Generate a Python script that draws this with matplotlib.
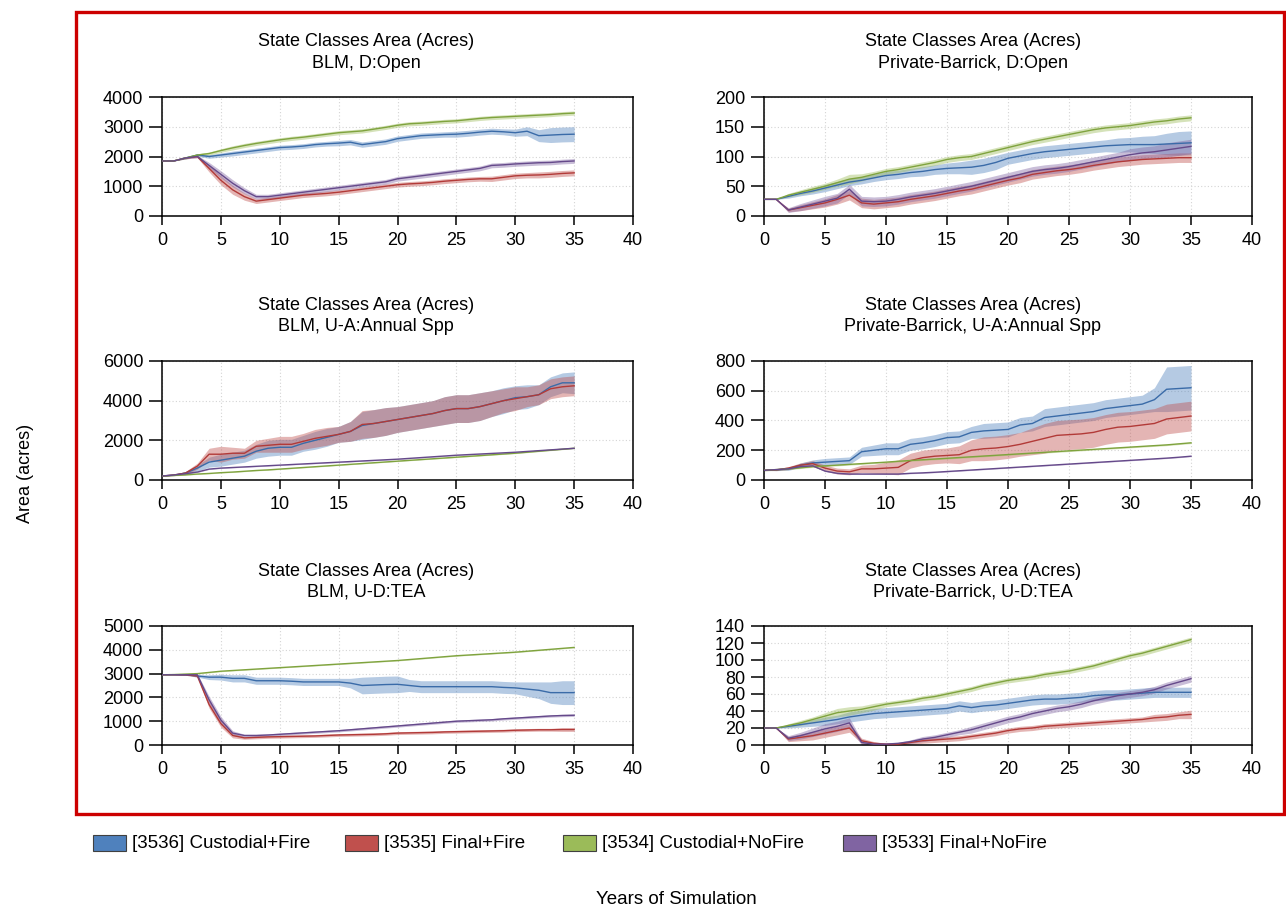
import matplotlib
matplotlib.use("Agg")
import matplotlib.pyplot as plt
from matplotlib.patches import Rectangle
import numpy as np

plt.rcParams['font.family'] = ['Liberation Sans', 'DejaVu Sans']

YEARS = list(range(36))

SCENARIOS = ["[3536] Custodial+Fire", "[3535] Final+Fire",
             "[3534] Custodial+NoFire", "[3533] Final+NoFire"]

# ---- BLM, D:Open ----
BLM_OPEN_CF = [1850, 1850, 1950, 2050, 2000, 2050, 2100, 2150, 2200, 2250,
               2300, 2320, 2350, 2400, 2430, 2450, 2480, 2400, 2450, 2500,
               2600, 2650, 2700, 2720, 2740, 2750, 2780, 2820, 2850, 2830,
               2800, 2850, 2700, 2720, 2740, 2750]
BLM_OPEN_CF_BAND = [0, 0, 30, 40, 60, 70, 80, 80, 80, 80,
                    80, 80, 80, 80, 80, 90, 90, 90, 90, 90,
                    90, 90, 90, 90, 90, 100, 100, 100, 100, 100,
                    120, 150, 200, 250, 250, 250]
BLM_OPEN_FF = [1850, 1850, 1950, 2000, 1600, 1200, 880, 650, 500, 550,
               600, 650, 700, 730, 760, 800, 850, 900, 950, 1000,
               1050, 1080, 1100, 1130, 1170, 1200, 1230, 1250, 1250, 1300,
               1350, 1370, 1380, 1400, 1430, 1450]
BLM_OPEN_FF_BAND = [0, 0, 30, 40, 120, 150, 150, 120, 80, 80,
                    80, 80, 80, 80, 80, 80, 80, 80, 80, 80,
                    80, 80, 80, 80, 80, 80, 80, 80, 90, 90,
                    90, 90, 100, 100, 100, 100]
BLM_OPEN_CN = [1850, 1850, 1950, 2050, 2100, 2200, 2290, 2370, 2440, 2500,
               2560, 2610, 2650, 2700, 2750, 2800, 2830, 2860, 2920, 2980,
               3050, 3100, 3120, 3150, 3180, 3200, 3240, 3280, 3310, 3330,
               3350, 3370, 3390, 3410, 3440, 3460]
BLM_OPEN_CN_BAND = [0, 0, 30, 40, 50, 60, 70, 70, 70, 70,
                    70, 70, 70, 70, 70, 70, 70, 70, 70, 70,
                    70, 70, 70, 70, 70, 70, 70, 70, 70, 70,
                    70, 70, 70, 70, 70, 70]
BLM_OPEN_FN = [1850, 1850, 1950, 2000, 1700, 1400, 1100, 850, 650, 650,
               700, 750, 800, 850, 900, 950, 1000, 1050, 1100, 1150,
               1250, 1300, 1350, 1400, 1450, 1500, 1550, 1600, 1700, 1720,
               1750, 1770, 1790, 1800, 1830, 1850]
BLM_OPEN_FN_BAND = [0, 0, 30, 40, 100, 120, 120, 100, 80, 80,
                    80, 80, 80, 80, 80, 80, 80, 80, 80, 80,
                    80, 80, 80, 80, 80, 80, 80, 80, 80, 80,
                    80, 80, 80, 80, 80, 80]

# ---- Private-Barrick, D:Open ----
PB_OPEN_CF = [28, 28, 33, 38, 42, 47, 52, 57, 60, 64,
              68, 70, 73, 75, 78, 80, 81, 82, 85, 90,
              97, 101, 105, 108, 110, 112, 114, 116, 118, 119,
              120, 120, 120, 121, 122, 123]
PB_OPEN_CF_BAND = [0, 0, 3, 4, 5, 6, 6, 6, 6, 6,
                   7, 7, 7, 8, 8, 9, 10, 12, 12, 12,
                   10, 10, 10, 10, 10, 10, 10, 10, 10, 12,
                   12, 14, 15, 18, 20, 20]
PB_OPEN_FF = [28, 28, 10, 14, 18, 22, 28, 35, 22, 20,
              22, 24, 28, 31, 34, 38, 42, 45, 50, 55,
              60, 64, 70, 73, 76, 78, 81, 85, 88, 91,
              93, 95, 96, 97, 98, 98]
PB_OPEN_FF_BAND = [0, 0, 3, 5, 6, 7, 8, 8, 8, 8,
                   8, 8, 8, 8, 8, 8, 8, 8, 8, 8,
                   8, 8, 8, 8, 8, 8, 8, 8, 8, 8,
                   8, 8, 8, 8, 8, 8]
PB_OPEN_CN = [28, 28, 35, 40, 45, 50, 56, 62, 65, 70,
              75, 78, 82, 86, 90, 95, 98, 100, 105, 110,
              115, 120, 125, 129, 133, 137, 141, 145, 148, 150,
              152, 155, 158, 160, 163, 165]
PB_OPEN_CN_BAND = [0, 0, 3, 4, 5, 5, 6, 8, 6, 5,
                   5, 5, 5, 5, 5, 5, 5, 5, 5, 5,
                   5, 5, 5, 5, 5, 5, 5, 5, 5, 5,
                   5, 5, 5, 5, 5, 5]
PB_OPEN_FN = [28, 28, 10, 15, 20, 25, 30, 45, 25, 24,
              25, 28, 32, 35, 38, 42, 46, 50, 55, 60,
              65, 70, 75, 78, 80, 83, 87, 91, 95, 99,
              103, 106, 108, 111, 114, 117]
PB_OPEN_FN_BAND = [0, 0, 4, 6, 7, 8, 8, 8, 8, 8,
                   8, 8, 8, 8, 8, 8, 8, 8, 8, 8,
                   8, 8, 8, 8, 8, 8, 8, 8, 8, 8,
                   10, 10, 10, 12, 12, 12]

# ---- BLM, U-A:Annual Spp ----
BLM_ANN_CF = [200, 250, 350, 600, 900, 1000, 1100, 1200, 1450, 1600,
              1650, 1650, 1850, 2000, 2150, 2300, 2450, 2750, 2850, 2950,
              3050, 3150, 3250, 3350, 3500, 3600, 3600, 3700, 3850, 4000,
              4150, 4200, 4300, 4700, 4900, 4900]
BLM_ANN_CF_BAND = [0, 30, 80, 150, 250, 300, 300, 300, 350, 400,
                   400, 400, 400, 450, 450, 400, 500, 700, 700, 700,
                   650, 650, 650, 650, 700, 700, 700, 700, 650, 650,
                   600, 600, 500, 500, 500, 550]
BLM_ANN_FF = [200, 250, 350, 700, 1300, 1300, 1350, 1350, 1700, 1750,
              1800, 1800, 1950, 2100, 2200, 2300, 2450, 2800, 2850, 2950,
              3050, 3150, 3250, 3350, 3500, 3600, 3600, 3700, 3850, 4000,
              4100, 4200, 4300, 4600, 4700, 4750]
BLM_ANN_FF_BAND = [0, 30, 80, 150, 300, 400, 300, 250, 300, 350,
                   400, 400, 400, 450, 450, 400, 500, 700, 700, 700,
                   650, 650, 650, 650, 700, 700, 700, 700, 650, 600,
                   600, 500, 500, 500, 500, 500]
BLM_ANN_CN = [200, 230, 260, 300, 330, 370, 400, 440, 480, 510,
              550, 590, 630, 670, 710, 750, 790, 830, 870, 910,
              950, 990, 1030, 1070, 1110, 1150, 1190, 1230, 1270, 1310,
              1350, 1400, 1450, 1500, 1550, 1600]
BLM_ANN_CN_BAND = [20, 20, 20, 20, 20, 20, 20, 20, 20, 20,
                   20, 20, 20, 20, 20, 20, 20, 20, 20, 20,
                   20, 20, 20, 20, 20, 20, 20, 20, 20, 20,
                   20, 20, 20, 20, 20, 20]
BLM_ANN_FN = [200, 250, 320, 400, 550, 600, 630, 660, 690, 720,
              750, 780, 810, 840, 870, 900, 930, 960, 990, 1020,
              1050, 1090, 1130, 1170, 1210, 1250, 1280, 1310, 1340, 1370,
              1400, 1440, 1480, 1520, 1560, 1600]
BLM_ANN_FN_BAND = [20, 20, 20, 20, 20, 20, 20, 20, 20, 20,
                   20, 20, 20, 20, 20, 20, 20, 20, 20, 20,
                   20, 20, 20, 20, 20, 20, 20, 20, 20, 20,
                   20, 20, 20, 20, 20, 20]

# ---- Private-Barrick, U-A:Annual Spp ----
PB_ANN_CF = [65, 68, 75, 100, 115, 120, 125, 130, 190, 200,
             210, 210, 240, 250, 265, 285, 290, 320, 330, 335,
             340, 370, 380, 420, 430, 440, 450, 460, 480, 490,
             500, 510, 540, 610, 615, 620]
PB_ANN_CF_BAND = [0, 5, 10, 15, 20, 25, 25, 25, 30, 35,
                  40, 40, 40, 40, 40, 40, 40, 40, 50, 50,
                  50, 50, 50, 60, 60, 60, 60, 60, 60, 60,
                  60, 60, 80, 150, 150, 150]
PB_ANN_FF = [65, 68, 80, 100, 110, 80, 60, 55, 75, 75,
             80, 85, 130, 150, 160, 165, 170, 200, 210, 215,
             225, 240, 260, 280, 300, 305, 310, 320, 340, 355,
             360, 370, 380, 410, 420, 430]
PB_ANN_FF_BAND = [0, 5, 10, 15, 20, 20, 20, 20, 25, 30,
                  40, 50, 50, 50, 50, 50, 60, 70, 80, 80,
                  80, 80, 90, 100, 100, 100, 100, 100, 100, 100,
                  100, 100, 100, 100, 100, 100]
PB_ANN_CN = [65, 70, 75, 82, 90, 95, 100, 105, 110, 115,
             120, 126, 131, 136, 141, 146, 151, 156, 161, 166,
             171, 176, 181, 186, 191, 196, 201, 206, 211, 216,
             221, 226, 231, 236, 243, 250]
PB_ANN_CN_BAND = [5, 5, 5, 5, 5, 5, 5, 5, 5, 5,
                  5, 5, 5, 5, 5, 5, 5, 5, 5, 5,
                  5, 5, 5, 5, 5, 5, 5, 5, 5, 5,
                  5, 5, 5, 5, 5, 5]
PB_ANN_FN = [65, 70, 75, 90, 95, 60, 45, 40, 40, 40,
             40, 40, 45, 48, 52, 57, 62, 67, 72, 77,
             82, 87, 92, 97, 102, 107, 112, 117, 122, 127,
             132, 137, 142, 147, 153, 160]
PB_ANN_FN_BAND = [3, 3, 3, 3, 3, 3, 3, 3, 3, 3,
                  3, 3, 3, 3, 3, 3, 3, 3, 3, 3,
                  3, 3, 3, 3, 3, 3, 3, 3, 3, 3,
                  3, 3, 3, 3, 3, 3]

# ---- BLM, U-D:TEA ----
BLM_TEA_CF = [2950, 2950, 2950, 2900, 2850, 2850, 2800, 2800, 2700, 2700,
              2700, 2680, 2650, 2650, 2650, 2650, 2600, 2500, 2520, 2540,
              2550, 2500, 2450, 2450, 2450, 2450, 2450, 2450, 2450, 2420,
              2400, 2350, 2300, 2200, 2200, 2200]
BLM_TEA_CF_BAND = [0, 0, 20, 50, 100, 120, 150, 150, 150, 150,
                   150, 150, 150, 150, 150, 150, 200, 350, 350, 350,
                   350, 250, 250, 250, 250, 250, 250, 250, 250, 250,
                   250, 300, 350, 450, 500, 500]
BLM_TEA_FF = [2950, 2950, 2950, 2900, 1700, 900, 400, 300, 320, 340,
              350, 360, 370, 380, 400, 420, 430, 440, 450, 470,
              500, 510, 520, 530, 550, 560, 570, 580, 590, 600,
              620, 630, 640, 640, 650, 650]
BLM_TEA_FF_BAND = [0, 0, 20, 40, 150, 150, 100, 60, 60, 60,
                   60, 60, 60, 60, 60, 60, 60, 60, 60, 60,
                   60, 60, 60, 60, 60, 60, 60, 60, 60, 60,
                   60, 60, 60, 60, 80, 80]
BLM_TEA_CN = [2950, 2960, 2980, 3000, 3050, 3100, 3130, 3160, 3190, 3220,
              3250, 3280, 3310, 3340, 3370, 3400, 3430, 3460, 3490, 3520,
              3550, 3590, 3630, 3670, 3710, 3750, 3780, 3810, 3840, 3870,
              3900, 3940, 3980, 4020, 4060, 4100]
BLM_TEA_CN_BAND = [0, 0, 20, 20, 20, 20, 20, 20, 20, 20,
                   20, 20, 20, 20, 20, 20, 20, 20, 20, 20,
                   20, 20, 20, 20, 20, 20, 20, 20, 20, 20,
                   20, 20, 20, 20, 20, 20]
BLM_TEA_FN = [2950, 2950, 2950, 2950, 1900, 1050, 500, 400, 400, 420,
              450, 480, 510, 540, 570, 600, 640, 680, 720, 760,
              800, 840, 880, 920, 960, 1000, 1020, 1040, 1060, 1100,
              1130, 1160, 1190, 1220, 1240, 1250]
BLM_TEA_FN_BAND = [0, 0, 20, 40, 150, 150, 100, 50, 50, 50,
                   50, 50, 50, 50, 50, 50, 50, 50, 50, 50,
                   50, 50, 50, 50, 50, 50, 50, 50, 50, 50,
                   50, 50, 50, 50, 50, 50]

# ---- Private-Barrick, U-D:TEA ----
PB_TEA_CF = [20, 20, 22, 24, 26, 28, 30, 33, 35, 37,
             38, 39, 40, 41, 42, 43, 46, 44, 46, 47,
             49, 51, 53, 54, 54, 55, 56, 58, 59, 59,
             60, 61, 62, 62, 62, 62]
PB_TEA_CF_BAND = [0, 0, 2, 3, 4, 5, 5, 6, 6, 6,
                  6, 6, 6, 6, 6, 6, 6, 6, 6, 6,
                  6, 6, 6, 6, 6, 6, 6, 6, 6, 6,
                  6, 6, 6, 6, 6, 6]
PB_TEA_FF = [20, 20, 7, 9, 11, 14, 17, 20, 5, 2,
             1, 1, 3, 5, 6, 7, 8, 10, 12, 14,
             17, 19, 20, 22, 23, 24, 25, 26, 27, 28,
             29, 30, 32, 33, 35, 36]
PB_TEA_FF_BAND = [0, 0, 3, 4, 5, 5, 5, 5, 3, 2,
                  1, 1, 2, 3, 3, 3, 3, 3, 3, 3,
                  3, 3, 3, 3, 3, 3, 3, 3, 3, 3,
                  3, 3, 4, 4, 4, 5]
PB_TEA_CN = [20, 20, 23, 26, 30, 34, 38, 40, 42, 45,
             48, 50, 52, 55, 57, 60, 63, 66, 70, 73,
             76, 78, 80, 83, 85, 87, 90, 93, 97, 101,
             105, 108, 112, 116, 120, 124]
PB_TEA_CN_BAND = [0, 0, 2, 3, 3, 4, 5, 5, 4, 4,
                  3, 3, 3, 3, 3, 3, 3, 3, 3, 3,
                  3, 3, 3, 3, 3, 3, 3, 3, 3, 3,
                  3, 3, 3, 3, 3, 3]
PB_TEA_FN = [20, 20, 8, 11, 15, 19, 22, 26, 3, 1,
             1, 2, 4, 7, 9, 12, 15, 18, 22, 26,
             30, 33, 37, 40, 43, 45, 48, 52, 55, 58,
             60, 62, 65, 70, 74, 78]
PB_TEA_FN_BAND = [0, 0, 3, 4, 5, 6, 6, 6, 3, 1,
                  1, 1, 2, 3, 3, 3, 3, 4, 4, 4,
                  4, 4, 4, 4, 4, 4, 4, 4, 4, 4,
                  4, 4, 4, 4, 4, 4]

PANEL_SUBTITLES = ["BLM, D:Open", "Private-Barrick, D:Open",
                   "BLM, U-A:Annual Spp", "Private-Barrick, U-A:Annual Spp",
                   "BLM, U-D:TEA", "Private-Barrick, U-D:TEA"]
PANEL_YTICKS = [[0, 1000, 2000, 3000, 4000],
                [0, 50, 100, 150, 200],
                [0, 2000, 4000, 6000],
                [0, 200, 400, 600, 800],
                [0, 1000, 2000, 3000, 4000, 5000],
                [0, 20, 40, 60, 80, 100, 120, 140]]
XTICKS = [0, 5, 10, 15, 20, 25, 30, 35, 40]

PANEL_SERIES = [
    [(BLM_OPEN_CF, BLM_OPEN_CF_BAND), (BLM_OPEN_FF, BLM_OPEN_FF_BAND),
     (BLM_OPEN_CN, BLM_OPEN_CN_BAND), (BLM_OPEN_FN, BLM_OPEN_FN_BAND)],
    [(PB_OPEN_CF, PB_OPEN_CF_BAND), (PB_OPEN_FF, PB_OPEN_FF_BAND),
     (PB_OPEN_CN, PB_OPEN_CN_BAND), (PB_OPEN_FN, PB_OPEN_FN_BAND)],
    [(BLM_ANN_CF, BLM_ANN_CF_BAND), (BLM_ANN_FF, BLM_ANN_FF_BAND),
     (BLM_ANN_CN, BLM_ANN_CN_BAND), (BLM_ANN_FN, BLM_ANN_FN_BAND)],
    [(PB_ANN_CF, PB_ANN_CF_BAND), (PB_ANN_FF, PB_ANN_FF_BAND),
     (PB_ANN_CN, PB_ANN_CN_BAND), (PB_ANN_FN, PB_ANN_FN_BAND)],
    [(BLM_TEA_CF, BLM_TEA_CF_BAND), (BLM_TEA_FF, BLM_TEA_FF_BAND),
     (BLM_TEA_CN, BLM_TEA_CN_BAND), (BLM_TEA_FN, BLM_TEA_FN_BAND)],
    [(PB_TEA_CF, PB_TEA_CF_BAND), (PB_TEA_FF, PB_TEA_FF_BAND),
     (PB_TEA_CN, PB_TEA_CN_BAND), (PB_TEA_FN, PB_TEA_FN_BAND)],
]

FILL_COLORS = ["#4F81BD", "#C0504D", "#9BBB59", "#8064A2"]
LINE_COLORS = ["#3A6BA8", "#B23A38", "#7FA33E", "#65498A"]

W, H = 1286, 914
fig = plt.figure(figsize=(W / 100, H / 100), dpi=100)


def fx(px):
    return px / W


def fy(py):
    return 1 - py / H


# pixel geometry of each panel: (left, right, title centre x) and (top, bottom)
COLS = [(162, 633, 366), (764, 1252, 973)]
ROWS = [(97, 216), (361, 480), (626, 745)]

FS = 13
for i in range(6):
    r, c = divmod(i, 2)
    l, rgt, tx = COLS[c]
    t, b = ROWS[r]
    ax = fig.add_axes([fx(l), fy(b), fx(rgt - l), (b - t) / H])
    for (mean, band), fc, lc in zip(PANEL_SERIES[i], FILL_COLORS, LINE_COLORS):
        m = np.array(mean, dtype=float)
        s = np.array(band, dtype=float)
        ax.fill_between(YEARS, m - s, m + s, color=fc, alpha=0.42, lw=0, zorder=2)
        ax.plot(YEARS, m, color=lc, lw=1.0, zorder=3)
    yt = PANEL_YTICKS[i]
    ax.set_xlim(0, 40)
    ax.set_ylim(yt[0], yt[-1])
    ax.set_xticks(XTICKS)
    ax.set_yticks(yt)
    ax.grid(True, linestyle=(0, (1, 2)), color="#d4d4d4", lw=0.8, zorder=0)
    for sp in ax.spines.values():
        sp.set_color("black")
        sp.set_linewidth(1.1)
    ax.tick_params(axis="y", direction="out", length=9.5, width=1.1, pad=4, labelsize=FS)
    ax.tick_params(axis="x", direction="out", length=6.5, width=1.1, pad=5, labelsize=FS)
    fig.text(fx(tx), fy(t - 55), "State Classes Area (Acres)", ha="center", va="center", fontsize=FS)
    fig.text(fx(tx), fy(t - 34), PANEL_SUBTITLES[i], ha="center", va="center", fontsize=FS)

# red frame around the panel grid
fig.patches.append(Rectangle((fx(75.5), fy(813.5)), fx(1284 - 75.5), (813.5 - 11.5) / H,
                             transform=fig.transFigure, fill=False,
                             edgecolor="#CC0000", lw=2.4, zorder=10))

# legend row
LEG_X = [93, 345, 563, 843]
for x0, name, fc in zip(LEG_X, SCENARIOS, FILL_COLORS):
    fig.patches.append(Rectangle((fx(x0), fy(851)), fx(33), 16 / H,
                                 transform=fig.transFigure, facecolor=fc,
                                 edgecolor="#404040", lw=0.8))
    fig.text(fx(x0 + 39), fy(843), name, ha="left", va="center", fontsize=13.5)

fig.text(fx(25), fy(473), "Area (acres)", rotation=90, ha="center", va="center", fontsize=FS)
fig.text(fx(676), fy(900), "Years of Simulation", ha="center", va="center", fontsize=13.5)

fig.savefig("out.png", dpi=100, facecolor="white")
